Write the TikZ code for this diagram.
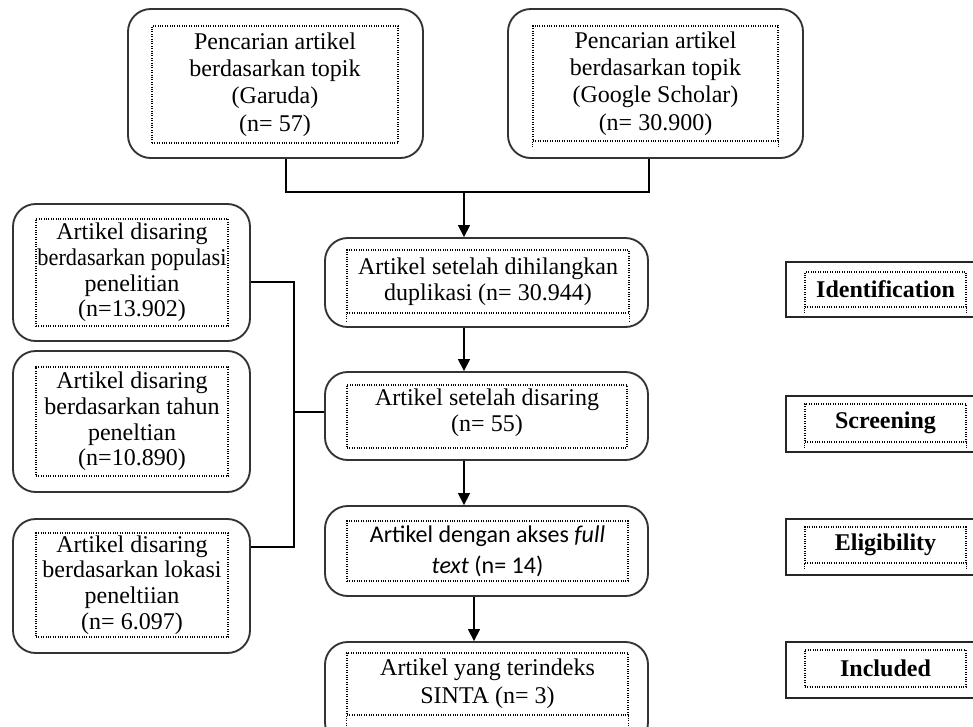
\documentclass[tikz,border=0pt]{standalone}
\usepackage{fontspec}
\setmainfont{Liberation Serif}
\newfontfamily\calibri{Carlito}
\usetikzlibrary{fit,arrows.meta}
\begin{document}
\begin{tikzpicture}[x=0.75pt,y=-0.75pt,
  outerbox/.style={draw=black!80, line width=1.4pt, rounded corners=17pt, inner sep=0pt, fit={#1}},
  tagbox/.style={draw=black!85, line width=1.1pt, inner sep=0pt, fit={#1}},
  dotbox/.style={draw=black, densely dotted, line width=0.8pt, inner sep=0pt, fit={#1}},
  dotline/.style={draw=black, densely dotted, line width=0.8pt},
  txt/.style={inner sep=0pt, align=center, anchor=center},
  fA/.style={txt, font={\fontsize{18}{20.5}\selectfont}},
  fB/.style={txt, font={\fontsize{18}{19.3}\selectfont}},
  fC/.style={txt, font={\fontsize{18}{19.5}\selectfont}},
  fD/.style={txt, font={\calibri\fontsize{18}{23.5}\selectfont}},
  fE/.style={txt, font={\fontsize{18}{21}\selectfont}},
  fL/.style={txt, font={\bfseries\fontsize{18}{20}\selectfont}},
  conn/.style={draw=black, line width=1.1pt},
  arr/.style={conn, -{Triangle[length=9pt,width=9pt]}}
]
\useasboundingbox (0,0) rectangle (973,726);
\clip (0,0) rectangle (973,726);

% top boxes
\node[outerbox={(128,9) (423,158)}] (b1) {};
\node[dotbox={(152,26) (398,143)}] (d1) {};
\node[fA] (t1) at (d1.center) {Pencarian artikel\\berdasarkan topik\\(Garuda)\\(n= 57)};
\node[outerbox={(508,9) (803,158)}] (b2) {};
\node[dotbox={(533,26) (778,141)}] (d2) {};
\node[fA] (t2) at (d2.center) {Pencarian artikel\\berdasarkan topik\\(Google Scholar)\\(n= 30.900)};
\draw[dotline] (d2.south west) -- ++(0,7) (d2.south east) -- ++(0,7);

% central column
\node[outerbox={(325,238) (648,327)}] (b3) {};
\node[dotbox={(347,250) (629,313)}] (d3) {};
\node[fC] (t3) at (d3.center) {Artikel setelah dihilangkan\\duplikasi (n= 30.944)};
\draw[dotline] (d3.south west) -- ++(0,8) (d3.south east) -- ++(0,8);

\node[outerbox={(325,372) (648,460)}] (b4) {};
\node[dotbox={(347,385) (627,448)}] (d4) {};
\node[fC] (t4) at ([yshift=3pt]d4.center) {Artikel setelah disaring\\(n= 55)};

\node[outerbox={(325,506) (648,596)}] (b5) {};
\node[dotbox={(347,521) (628,581)}] (d5) {};
\node[fD] (t5) at (d5.center) {Artikel dengan akses \textit{full}\\\textit{text} (n= 14)};

\node[outerbox={(325,642) (648,745)}] (b6) {};
\node[dotbox={(347,653) (628,715)}] (d6) {};
\node[fE] (t6) at (d6.center) {Artikel yang terindeks\\SINTA (n= 3)};
\draw[dotline] (d6.south west) -- ++(0,30) (d6.south east) -- ++(0,30);

% left column
\node[outerbox={(13,204) (250,341)}] (L1) {};
\node[dotbox={(36,219) (228,326)}] (e1) {};
\node[fB] (l1) at (e1.center) {Artikel disaring\\\scalebox{0.93}[1]{berdasarkan populasi}\\penelitian\\(n=13.902)};
\node[outerbox={(13,351) (250,492)}] (L2) {};
\node[dotbox={(36,367) (228,476)}] (e2) {};
\node[fB] (l2) at (e2.center) {Artikel disaring\\berdasarkan tahun\\peneltian\\(n=10.890)};
\node[outerbox={(13,519) (250,653)}] (L3) {};
\node[dotbox={(36,533) (228,637)}] (e3) {};
\node[fB] (l3) at (e3.center) {Artikel disaring\\berdasarkan lokasi\\peneltiian\\(n= 6.097)};

% right labels
\node[tagbox={(786,262) (990,317)}] (R1) {};
\node[dotbox={(805,272) (966,307)}] (s1) {};
\node[fL] (r1) at (s1.center) {Identification};
\draw[dotline] (s1.south west) -- ++(0,5) (s1.south east) -- ++(0,5);
\node[tagbox={(786,396) (990,452)}] (R2) {};
\node[dotbox={(805,404) (966,442)}] (s2) {};
\node[fL] (r2) at (s2.center) {Screening};
\draw[dotline] (s2.south west) -- ++(0,5) (s2.south east) -- ++(0,5);
\node[tagbox={(786,519) (990,575)}] (R3) {};
\node[dotbox={(805,527) (966,563)}] (s3) {};
\node[fL] (r3) at (s3.center) {Eligibility};
\draw[dotline] (s3.south west) -- ++(0,5) (s3.south east) -- ++(0,5);
\node[tagbox={(786,642) (990,698)}] (R4) {};
\node[dotbox={(805,650) (966,687)}] (s4) {};
\node[fL] (r4) at (s4.center) {Included};

% connectors
\coordinate (jL) at (286,192);
\coordinate (jR) at (649,192);
\coordinate (jM) at (464,192);
\coordinate (jN) at (474,600);
\draw[conn] (jL |- b1.south) -- (jL) -- (jR) -- (jR |- b2.south);
\draw[arr] (jM) -- (jM |- b3.north);
\draw[arr] (b3.south -| jM) -- (b4.north -| jM);
\draw[arr] (b4.south -| jM) -- (b5.north -| jM);
\draw[arr] (b5.south -| jN) -- (b6.north -| jN);

\coordinate (h1) at (294,282);
\coordinate (h2) at (294,412);
\coordinate (h3) at (294,547);
\draw[conn] (h1 -| L1.east) -- (h1) -- (h3) -- (h3 -| L3.east);
\draw[conn] (h2) -- (h2 -| b4.west);
\end{tikzpicture}
\end{document}
